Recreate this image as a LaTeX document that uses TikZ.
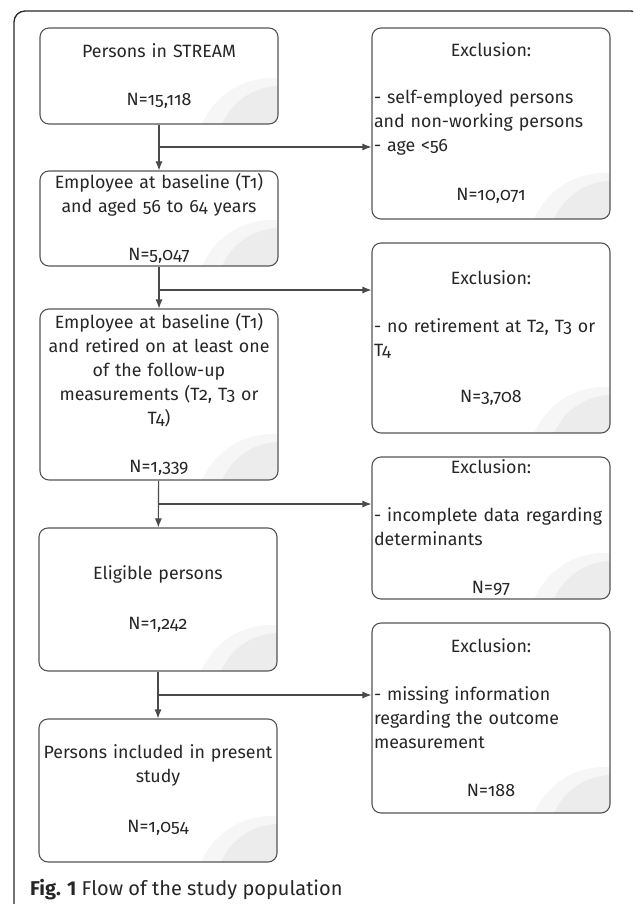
\documentclass[tikz,border=0pt]{standalone}
\usepackage{fontspec}
\setmainfont[Numbers=OldStyle]{Fira Sans}
\newfontfamily\capfont{Fira Sans}
\usepackage{tikz}
\usetikzlibrary{arrows.meta}

\definecolor{boxline}{HTML}{555555}
\definecolor{linkgray}{HTML}{4A4A4A}
\definecolor{swooshlight}{HTML}{F6F6F6}
\definecolor{swooshdark}{HTML}{ECECEC}
\definecolor{textgray}{HTML}{262626}

% centred line inside a left aligned box
\newcommand{\ctrline}[1]{\makebox[\linewidth]{#1}}

\begin{document}
\begin{tikzpicture}[%
		x=1pt,y=-1pt,
		frame/.style={line width=1.3pt,draw=black!85,rounded corners=11pt},%
		flowbox/.style={%
			draw=boxline,%
			line width=1.1pt,%
			rounded corners=9pt,%
			minimum width=238pt,%
			inner xsep=2pt,inner ysep=1pt,%
			text=textgray,%
			font=\fontsize{17.8}{24}\selectfont,%
			path picture={%
				\fill[swooshlight] ([shift={(-6pt,-30pt)}]path picture bounding box.south east) circle (76pt);
				\fill[swooshdark] ([shift={(2pt,-25pt)}]path picture bounding box.south east) circle (63pt);
			}},%
		mainbox/.style={flowbox,align=center,text width=234pt},%
		exclbox/.style={flowbox,align=left,text width=234pt},%
		flow/.style={draw=linkgray,line width=1.1pt,-{Latex[length=9pt,width=7pt]}}
		]

		\useasboundingbox (0,0) rectangle (633,904);
		\clip (0,0) rectangle (633,904);
		\draw[frame] (14,11) rectangle (642,918);

		% left column
		\node[mainbox,minimum height=96pt] (stream) at (159,76)
			{Persons in STREAM\\[24pt]N=15,118};
		\node[mainbox,minimum height=95pt] (baseline) at (159,218.5)
			{Employee at baseline (T1)\\and aged 56 to 64 years\\[24pt]N=5,047};
		\node[mainbox,minimum height=171pt] (retired) at (159,394.5)
			{Employee at baseline (T1)\\and retired on at least one\\of the follow-up\\measurements (T2, T3 or\\T4)\\[24pt]N=1,339};
		\node[mainbox,minimum height=143pt] (eligible) at (158,599.5)
			{Eligible persons\\[26pt]N=1,242};
		\node[mainbox,minimum height=143pt] (included) at (158,790.5)
			{Persons included in present\\study\\[26pt]N=1,054};

		% right column
		\node[exclbox,minimum height=191pt] (excl1) at (491,123.5)
			{\ctrline{Exclusion:}\\[23pt]- self-employed persons\\and non-working persons\\- age <56\\[25pt]\ctrline{N=10,071}};
		\node[exclbox,minimum height=190pt] (excl2) at (491,338)
			{\ctrline{Exclusion:}\\[24pt]- no retirement at T2, T3 or\\T4\\[22pt]\ctrline{N=3,708}};
		\node[exclbox,minimum height=142pt] (excl3) at (491,528)
			{\ctrline{Exclusion:}\\[24pt]- incomplete data regarding\\determinants\\[24pt]\ctrline{N=97}};
		\node[exclbox,minimum height=190pt] (excl4) at (491,718)
			{\ctrline{Exclusion:}\\[24pt]- missing information\\regarding the outcome\\measurement\\[24pt]\ctrline{N=188}};

		% branch points
		\coordinate (j1) at (159,147);
		\coordinate (j2) at (159,290);
		\coordinate (j3) at (159,504);
		\coordinate (j4) at (158,695);

		% arrows down
		\draw[flow] (stream) -- (baseline);
		\draw[flow] (baseline) -- (retired);
		\draw[flow] (retired) -- (eligible);
		\draw[flow] (eligible) -- (included);
		% arrows to the exclusions
		\draw[flow] (j1) -- (j1 -| excl1.west);
		\draw[flow] (j2) -- (j2 -| excl2.west);
		\draw[flow] (j3) -- (j3 -| excl3.west);
		\draw[flow] (j4) -- (j4 -| excl4.west);

		% caption
		\node[anchor=base west,inner sep=0pt,text=textgray,font=\capfont\fontsize{20}{22}\selectfont] (caption) at (30,895)
			{\textbf{Fig. 1} Flow of the study population};
	\end{tikzpicture}
\end{document}
